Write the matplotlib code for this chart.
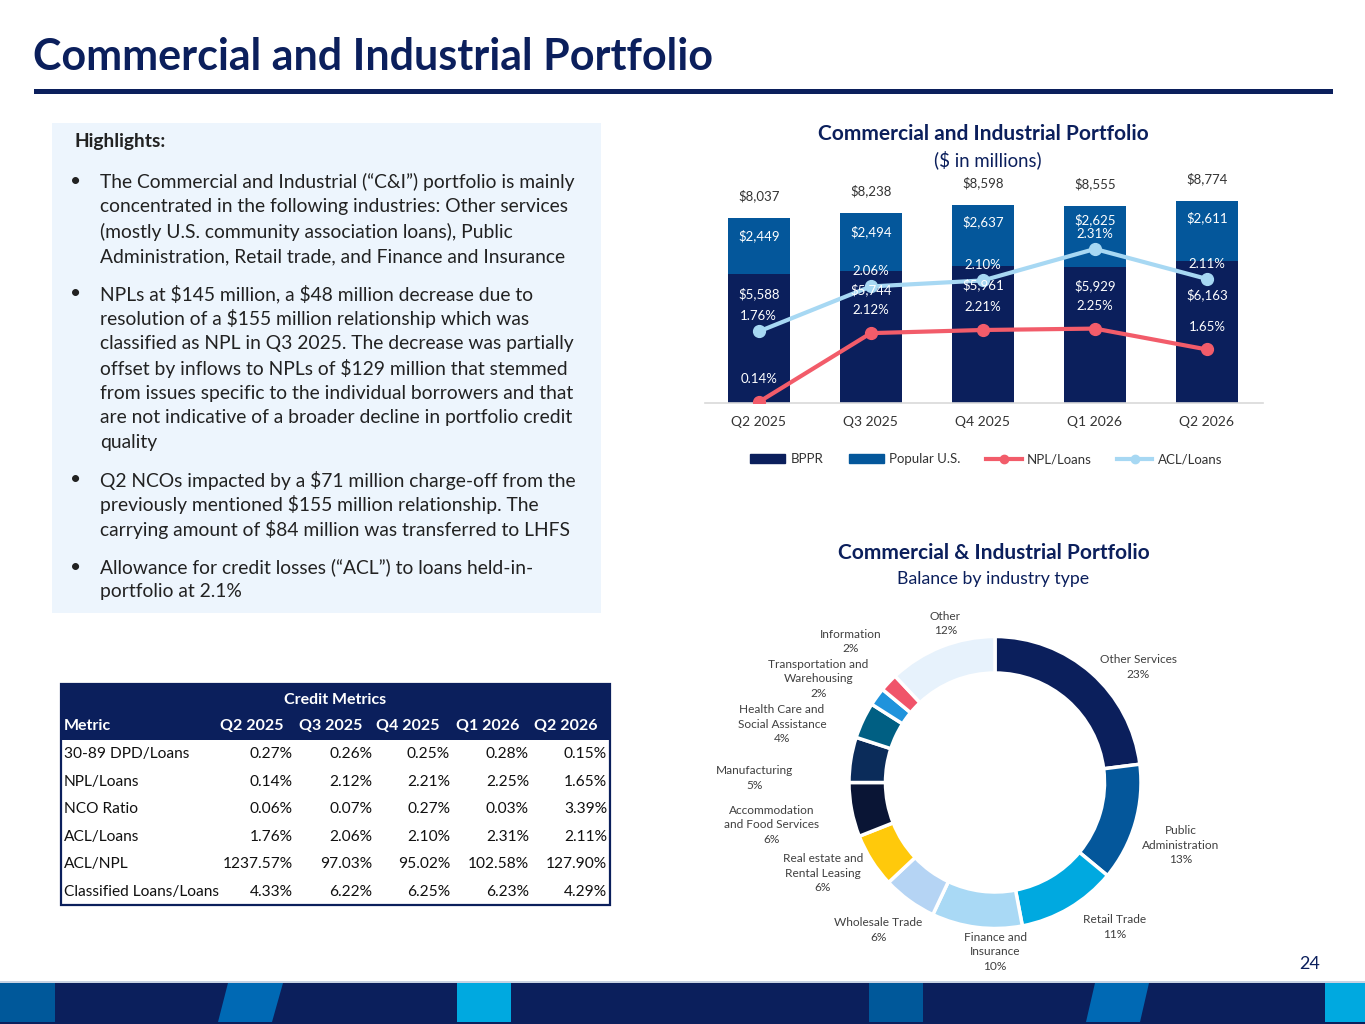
import matplotlib
matplotlib.use("Agg")
import matplotlib.pyplot as plt
from matplotlib.patches import Rectangle, Polygon, Patch
from matplotlib.lines import Line2D
import numpy as np

plt.rcParams['font.family'] = ['Lato', 'DejaVu Sans']

# ---------------- data ----------------
quarters = ["Q2 2025", "Q3 2025", "Q4 2025", "Q1 2026", "Q2 2026"]
bppr = [5588, 5744, 5961, 5929, 6163]
popular_us = [2449, 2494, 2637, 2625, 2611]
totals = [8037, 8238, 8598, 8555, 8774]
npl_loans = [0.14, 2.12, 2.21, 2.25, 1.65]
acl_loans = [1.76, 2.06, 2.10, 2.31, 2.11]

industries = ["Other Services", "Public\nAdministration", "Retail Trade", "Finance and\nInsurance",
              "Wholesale Trade", "Real estate and\nRental Leasing", "Accommodation\nand Food Services",
              "Manufacturing", "Health Care and\nSocial Assistance", "Transportation and\nWarehousing",
              "Information", "Other"]
industry_pct = [23, 13, 11, 10, 6, 6, 6, 5, 4, 2, 2, 12]

metric_names = ["30-89 DPD/Loans", "NPL/Loans", "NCO Ratio", "ACL/Loans", "ACL/NPL", "Classified Loans/Loans"]
metric_values = [
    ["0.27%", "0.26%", "0.25%", "0.28%", "0.15%"],
    ["0.14%", "2.12%", "2.21%", "2.25%", "1.65%"],
    ["0.06%", "0.07%", "0.27%", "0.03%", "3.39%"],
    ["1.76%", "2.06%", "2.10%", "2.31%", "2.11%"],
    ["1237.57%", "97.03%", "95.02%", "102.58%", "127.90%"],
    ["4.33%", "6.22%", "6.25%", "6.23%", "4.29%"],
]

highlights = [
    ["The Commercial and Industrial (\u201cC&I\u201d) portfolio is mainly",
     "concentrated in the following industries: Other services",
     "(mostly U.S. community association loans), Public",
     "Administration, Retail trade, and Finance and Insurance"],
    ["NPLs at $145 million, a $48 million decrease due to",
     "resolution of a $155 million relationship which was",
     "classified as NPL in Q3 2025. The decrease was partially",
     "offset by inflows to NPLs of $129 million that stemmed",
     "from issues specific to the individual borrowers and that",
     "are not indicative of a broader decline in portfolio credit",
     "quality"],
    ["Q2 NCOs impacted by a $71 million charge-off from the",
     "previously mentioned $155 million relationship. The",
     "carrying amount of $84 million was transferred to LHFS"],
    ["Allowance for credit losses (\u201cACL\u201d) to loans held-in-",
     "portfolio at 2.1%"],
]

# ---------------- style ----------------
NAVY = "#0b1f5c"
MIDBLUE = "#04579b"
CORAL = "#f25c6a"
LIGHTBLUE = "#a7d8f3"
TXT = "#333333"
pie_colors = ["#0b1f5c", "#04579b", "#00a9e0", "#a9d9f5", "#b5d4f4", "#ffc90b",
              "#0a1535", "#0b2c5a", "#005f83", "#1f93dc", "#f0546a", "#e7f2fc"]

W, H = 1365, 1024
fig = plt.figure(figsize=(W / 100, H / 100), dpi=100)
fig.patch.set_facecolor("white")

ax0 = fig.add_axes([0, 0, 1, 1])
ax0.set_xlim(0, W)
ax0.set_ylim(H, 0)
ax0.axis("off")


def T(x, y, s, **kw):
    return ax0.text(x, y, s, parse_math=False, **kw)


def fr(l, t, r, b):
    return [l / W, 1 - b / H, (r - l) / W, (b - t) / H]


# title + underline
T(33, 57, "Commercial and Industrial Portfolio", fontsize=31, fontweight="bold", color=NAVY,
  ha="left", va="center")
ax0.add_patch(Rectangle((34, 88.5), 1299, 5, color=NAVY, lw=0))

# highlights box
ax0.add_patch(Rectangle((52, 123), 549, 490, color="#edf5fd", lw=0))
T(75, 141, "Highlights:", fontsize=13.8, fontweight="bold", color="#222222", ha="left", va="center")
bullet_starts = [182, 294, 480, 567]
line_h = 24.8
for start, lines in zip(bullet_starts, highlights):
    T(76, start, "\u2022", fontsize=13.8, color="#222222", ha="center", va="center")
    for k, ln in enumerate(lines):
        T(100, start + k * line_h, ln, fontsize=13.9, color="#222222", ha="left", va="center")

# credit metrics table
tl, tr, tt, tb = 61, 610, 684, 905
ax0.add_patch(Rectangle((tl, tt), tr - tl, 56, color=NAVY, lw=0))
ax0.add_patch(Rectangle((tl, tt), tr - tl, tb - tt, fill=False, ec=NAVY, lw=1.6))
T((tl + tr) / 2, 700, "Credit Metrics", fontsize=11.5, fontweight="bold", color="white",
  ha="center", va="center")
val_right = [293, 372, 450, 529, 607]
T(64, 726, "Metric", fontsize=11.5, fontweight="bold", color="white", ha="left", va="center")
for q, xr in zip(quarters, val_right):
    T(xr - 10, 726, q, fontsize=11.5, fontweight="bold", color="white", ha="right", va="center")
row_y0, row_h = 754, 27.6
for i, (name, vals) in enumerate(zip(metric_names, metric_values)):
    y = row_y0 + i * row_h
    T(64, y, name, fontsize=11.2, color="#111111", ha="left", va="center")
    for v, xr in zip(vals, val_right):
        T(xr, y, v, fontsize=11.2, color="#111111", ha="right", va="center")

# chart titles
T(983, 134, "Commercial and Industrial Portfolio", fontsize=15, fontweight="bold", color=NAVY,
  ha="center", va="center")
T(988, 160, "($ in millions)", fontsize=13.4, color=NAVY, ha="center", va="center")
T(994, 553, "Commercial & Industrial Portfolio", fontsize=15, fontweight="bold", color=NAVY,
  ha="center", va="center")
T(993, 579, "Balance by industry type", fontsize=12.8, color=NAVY, ha="center", va="center")

# page number
T(1310, 964, "24", fontsize=13, color=NAVY, ha="center", va="center")

# bottom banner
ax0.add_patch(Rectangle((0, 982), W, 42, color=NAVY, lw=0))
ax0.add_patch(Rectangle((0, 981), W, 1.5, color="#c9d3e3", lw=0))
ax0.add_patch(Rectangle((0, 983), 55, 39, color="#00589a", lw=0))
ax0.add_patch(Polygon([(228, 983), (283, 983), (272, 1022), (218, 1022)], color="#0069b4", lw=0))
ax0.add_patch(Rectangle((457, 983), 54, 39, color="#00a9e0", lw=0))
ax0.add_patch(Rectangle((869, 983), 54, 39, color="#00589a", lw=0))
ax0.add_patch(Polygon([(1095, 983), (1149, 983), (1140, 1022), (1086, 1022)], color="#0069b4", lw=0))
ax0.add_patch(Rectangle((1325, 983), 40, 39, color="#00a9e0", lw=0))

# ---------------- bar + line chart ----------------
axb = fig.add_axes(fr(705, 175, 1263, 403))
axb.set_facecolor("none")
x = np.arange(len(quarters))
bw = 0.555
axb.bar(x, bppr, bw, color=NAVY, zorder=2)
axb.bar(x, popular_us, bw, bottom=bppr, color=MIDBLUE, zorder=2)
axb.set_xlim(-0.48, 4.5)
axb.set_ylim(0, 9905)
axb.set_yticks([])
axb.set_xticks(x)
axb.set_xticklabels(quarters, fontsize=10, color=TXT)
axb.tick_params(axis="x", length=0, pad=9)
for s in ["top", "right", "left"]:
    axb.spines[s].set_visible(False)
axb.spines["bottom"].set_color("#d9d9d9")
axb.spines["bottom"].set_linewidth(1.2)

axn = axb.twinx()
axn.set_ylim(0.112, 6.664)
axn.axis("off")
axn.plot(x, npl_loans, color=CORAL, lw=3, marker="o", ms=8.5, zorder=3)
for i, v in enumerate(npl_loans):
    axn.annotate(f"{v:.2f}%", (x[i], v), xytext=(0, 16.5), textcoords="offset points",
                 ha="center", va="center", fontsize=9.5, color="white")

axa = axb.twinx()
axa.set_ylim(1.283, 2.803)
axa.axis("off")
axa.plot(x, acl_loans, color=LIGHTBLUE, lw=3, marker="o", ms=8.5, zorder=3)
for i, v in enumerate(acl_loans):
    axa.annotate(f"{v:.2f}%", (x[i], v), xytext=(0, 11), textcoords="offset points",
                 ha="center", va="center", fontsize=9.5, color="white")

# bar value labels (drawn on the top-most axes so they sit over the lines)
bppr_label_drop = [14, 14, 14, 14, 24]       # points below top of BPPR segment
popular_label_drop = [13, 13, 12, 9.6, 12.2]  # points below top of stacked bar
for i in range(len(quarters)):
    top = bppr[i] + popular_us[i]
    axa.annotate(f"${bppr[i]:,}", (x[i], bppr[i]), xycoords=axb.transData,
                 xytext=(0, -bppr_label_drop[i]), textcoords="offset points",
                 ha="center", va="center", fontsize=9.5, color="white", zorder=5)
    axa.annotate(f"${popular_us[i]:,}", (x[i], top), xycoords=axb.transData,
                 xytext=(0, -popular_label_drop[i]), textcoords="offset points",
                 ha="center", va="center", fontsize=9.5, color="white", zorder=5)
    axa.annotate(f"${totals[i]:,}", (x[i], top), xycoords=axb.transData,
                 xytext=(0, 16), textcoords="offset points",
                 ha="center", va="center", fontsize=9.5, color=TXT, zorder=5)

handles = [Patch(color=NAVY), Patch(color=MIDBLUE),
           Line2D([], [], color=CORAL, lw=3, marker="o", ms=6),
           Line2D([], [], color=LIGHTBLUE, lw=3, marker="o", ms=6)]
leg = fig.legend(handles, ["BPPR", "Popular U.S.", "NPL/Loans", "ACL/Loans"],
                 loc="center", bbox_to_anchor=(986 / W, 1 - 459 / H), ncol=4, frameon=False,
                 fontsize=9.5, handlelength=2.7, handleheight=0.6, columnspacing=1.9, handletextpad=0.4)
for t in leg.get_texts():
    t.set_color(TXT)

# ---------------- donut ----------------
cx, cy, R = 994, 782, 141
axp = fig.add_axes(fr(700, 600, 1290, 965))
axp.set_facecolor("none")
axp.set_xlim((700 - cx) / R, (1290 - cx) / R)
axp.set_ylim((cy - 965) / R, (cy - 600) / R)
axp.axis("off")
axp.pie(industry_pct, colors=pie_colors, startangle=90, counterclock=False, radius=1,
        wedgeprops=dict(width=0.25, edgecolor="white", linewidth=2.5))

label_pos = [(0.98, 0.79), (1.27, -0.43), (0.82, -0.99), (0.0, -1.16), (-0.80, -1.01),
             (-1.18, -0.62), (-1.53, -0.29), (-1.645, 0.03), (-1.46, 0.40), (-1.21, 0.71),
             (-0.99, 0.965), (-0.34, 1.09)]
for name, pct, (lx, ly) in zip(industries, industry_pct, label_pos):
    axp.text(lx, ly, f"{name}\n{pct}%", ha="center", va="center", fontsize=8.6, color="#404040",
             linespacing=1.37, parse_math=False)

fig.savefig("out.png", dpi=100)
